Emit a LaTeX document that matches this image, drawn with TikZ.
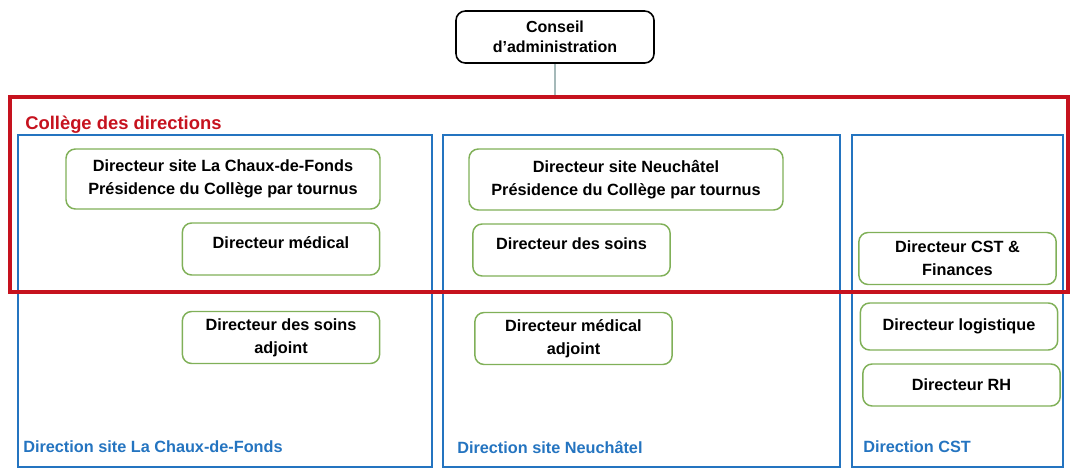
\documentclass[tikz,border=0pt]{standalone}
\usepackage{fontspec}
\setmainfont{Liberation Sans}
\definecolor{collegered}{RGB}{198,18,30}
\definecolor{siteblue}{RGB}{36,116,192}
\definecolor{dirgreen}{RGB}{128,176,88}
\definecolor{linkgray}{RGB}{165,185,185}

\begin{document}
\begin{tikzpicture}
  [x=0.75pt,y=-0.75pt,
   every node/.style={font=\fontsize{12.2}{17.2}\selectfont\bfseries,align=center,inner sep=0pt},
   dir/.style={draw=dirgreen,line width=1.1pt,rounded corners=7pt,fill=white,minimum width=148pt,minimum height=39pt},
   upper/.style={text depth=10pt},
   site/.style={draw=siteblue,line width=2.2pt,minimum height=249pt},
   sitename/.style={anchor=west,text=siteblue}]
  \useasboundingbox (0,0) rectangle (1076,472);

  % directions
  \node[site,minimum width=310.5pt] (lcf) at (225,301) {};
  \node[site,minimum width=297.75pt] (ne) at (641.5,301) {};
  \node[site,minimum width=158.25pt] (cst) at (957.5,301) {};
  \foreach \pos/\name in {23/Direction site La Chaux-de-Fonds,457/Direction site Neuchâtel,863/Direction CST}
    \node[sitename] at (\pos,447) {\name};

  % college
  \node[draw=collegered,line width=3pt,minimum width=793.5pt,minimum height=146.25pt] (college) at (539,194.5) {};
  \node[anchor=west,text=collegered,font=\fontsize{13.8}{16}\selectfont\bfseries] (collegename) at (25,125) {Collège des directions};

  \node[draw,line width=1.2pt,rounded corners=7pt,minimum width=148.5pt,minimum height=39pt,font=\fontsize{12}{15}\selectfont\bfseries] (ca) at (555,37) {Conseil\\d’administration};
  \draw[linkgray,line width=0.8pt] (ca) -- (ca |- college.north);

  \node[dir,minimum width=235.5pt,minimum height=45pt] (lcf1) at (223,179) {Directeur site La Chaux-de-Fonds\\Présidence du Collège par tournus};
  \node[dir,upper] (lcf2) at (281,249) {Directeur médical};
  \node[dir] (lcf3) at (281,337.5) {Directeur des soins\\adjoint};

  \node[dir,minimum width=235.5pt,minimum height=45.75pt] (ne1) at (626,179.5) {Directeur site Neuchâtel\\Présidence du Collège par tournus};
  \node[dir,upper] (ne2) at (571.5,250) {Directeur des soins};
  \node[dir] (ne3) at (573.5,338.5) {Directeur médical\\adjoint};

  \node[dir] (cst1) at (957.5,258.5) {Directeur CST \&\\Finances};
  \node[dir,minimum height=35.25pt] (cst2) at (959,326.5) {Directeur logistique};
  \node[dir,minimum height=31.5pt] (cst3) at (961.5,385) {Directeur RH};
\end{tikzpicture}
\end{document}
